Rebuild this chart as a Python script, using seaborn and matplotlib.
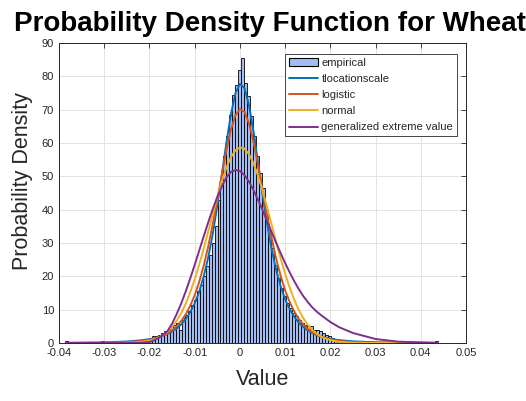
import matplotlib
matplotlib.use("Agg")
import matplotlib.pyplot as plt
import seaborn as sns
from matplotlib.patches import Patch
from matplotlib.lines import Line2D

sns.set_style("white")
plt.rcParams["font.family"] = ["Liberation Sans", "DejaVu Sans"]

# Empirical density of daily returns (bin centres and pdf-normalised heights)
bin_centers = [
    -0.03828, -0.03036, -0.02310, -0.02178, -0.02112, -0.02046, -0.01980,
    -0.01914, -0.01848, -0.01782, -0.01716, -0.01650, -0.01584, -0.01518,
    -0.01452, -0.01386, -0.01320, -0.01254, -0.01188, -0.01122, -0.01056,
    -0.00990, -0.00924, -0.00858, -0.00792, -0.00726, -0.00660, -0.00594,
    -0.00528, -0.00462, -0.00396, -0.00330, -0.00264, -0.00198, -0.00132,
    -0.00066, 0.00000, 0.00066,
    0.00132, 0.00198, 0.00264, 0.00330, 0.00396, 0.00462, 0.00528, 0.00594,
    0.00660, 0.00726, 0.00792, 0.00858, 0.00924, 0.00990, 0.01056, 0.01122,
    0.01188, 0.01254, 0.01320, 0.01386, 0.01452, 0.01518, 0.01584, 0.01650,
    0.01716, 0.01782, 0.01848, 0.01914, 0.01980, 0.02046, 0.02112, 0.02178,
    0.02244, 0.02376, 0.02508, 0.02772, 0.04356,
]
density = [
    0.5, 0.5, 0.5, 0.5, 1.0, 1.0, 1.5,
    2.0, 2.0, 2.5, 3.0, 3.5, 4.0, 5.0,
    5.5, 6.0, 4.0, 7.5, 8.5, 9.5, 11.5,
    13.0, 15.5, 17.5, 20.0, 23.0, 26.5, 30.0,
    35.0, 43.0, 48.0, 56.0, 62.0, 68.5, 74.5,
    77.5, 82.0, 85.4,
    78.0, 74.2, 68.0, 62.0, 56.0, 51.0, 46.5, 40.0,
    34.0, 28.5, 23.5, 19.5, 16.5, 14.0, 12.0, 10.5,
    9.0, 8.0, 7.0, 6.0, 5.5, 5.0, 5.0, 4.0,
    4.0, 3.5, 3.0, 2.5, 2.0, 1.5, 1.0, 1.0,
    0.5, 0.5, 0.5, 0.5, 0.5,
]

# Fitted densities evaluated along the data range
x_fit = [
    -0.0385, -0.030, -0.025, -0.022, -0.020, -0.019, -0.018, -0.017,
    -0.016, -0.015, -0.014, -0.013, -0.012, -0.011, -0.010, -0.009,
    -0.008, -0.007, -0.006, -0.005, -0.004, -0.003, -0.002, -0.001,
    0.000, 0.001, 0.002, 0.003, 0.004, 0.005, 0.006, 0.007,
    0.008, 0.009, 0.010, 0.011, 0.012, 0.013, 0.014, 0.015, 0.016,
    0.017, 0.018, 0.019, 0.020, 0.022, 0.025, 0.030, 0.035, 0.0437,
]
pdf_tlocationscale = [
    0.07, 0.20, 0.45, 0.78, 1.16, 1.42, 1.75, 2.17,
    2.72, 3.43, 4.35, 5.55, 7.13, 9.19, 11.90, 15.42,
    19.95, 25.69, 32.75, 41.09, 50.38, 59.91, 68.53, 74.87,
    77.72, 76.48, 71.41, 63.54, 54.21, 44.72, 35.94, 28.34,
    22.09, 17.10, 13.20, 10.19, 7.89, 6.13, 4.80, 3.77, 2.98,
    2.38, 1.91, 1.54, 1.25, 0.85, 0.49, 0.22, 0.11, 0.04,
]
pdf_logistic = [
    0.006, 0.058, 0.24, 0.55, 0.96, 1.27, 1.67, 2.20,
    2.90, 3.82, 5.01, 6.56, 8.56, 11.11, 14.33, 18.32,
    23.20, 28.99, 35.63, 42.95, 50.52, 57.75, 63.93, 68.27,
    70.17, 69.35, 65.92, 60.39, 53.49, 45.97, 38.50, 31.56,
    25.41, 20.17, 15.83, 12.31, 9.51, 7.30, 5.59, 4.26, 3.24,
    2.46, 1.87, 1.41, 1.07, 0.61, 0.26, 0.065, 0.016, 0.001,
]
pdf_normal = [
    0.0, 0.003, 0.06, 0.28, 0.71, 1.09, 1.63, 2.39,
    3.44, 4.83, 6.64, 8.92, 11.75, 15.13, 19.06, 23.51,
    28.38, 33.50, 38.72, 43.81, 48.49, 52.54, 55.71, 57.80,
    58.67, 58.30, 56.68, 53.93, 50.22, 45.76, 40.80, 35.60,
    30.41, 25.41, 20.79, 16.64, 13.03, 9.99, 7.49, 5.50, 3.95,
    2.77, 1.91, 1.29, 0.85, 0.34, 0.08, 0.003, 0.0, 0.0,
]
pdf_gev = [
    0.0, 0.0, 0.0, 0.05, 0.3, 0.8, 1.5, 2.4,
    3.6, 5.8, 8.6, 11.8, 15.4, 19.3, 23.4, 27.7,
    32.0, 36.2, 40.2, 43.8, 47.0, 49.6, 51.3, 51.9,
    51.6, 50.4, 48.4, 45.9, 43.0, 39.9, 36.6, 33.3,
    30.1, 27.0, 24.0, 21.2, 18.6, 16.2, 14.1, 12.3, 10.7,
    9.4, 8.3, 7.3, 6.3, 4.7, 3.0, 1.2, 0.4, 0.05,
]

x_ticks = [-0.04, -0.03, -0.02, -0.01, 0.0, 0.01, 0.02, 0.03, 0.04, 0.05]
x_tick_labels = ["-0.04", "-0.03", "-0.02", "-0.01", "0",
                 "0.01", "0.02", "0.03", "0.04", "0.05"]
y_ticks = [0, 10, 20, 30, 40, 50, 60, 70, 80, 90]

fit_names = ["tlocationscale", "logistic", "normal", "generalized extreme value"]
fit_values = [pdf_tlocationscale, pdf_logistic, pdf_normal, pdf_gev]
fit_colors = ["#0072BD", "#D95319", "#EDB120", "#7E2F8E"]
bar_color = "#A3BDF2"
ink = "#262626"

W, H = 526, 401
fig = plt.figure(figsize=(W / 100, H / 100), dpi=100)
ax = fig.add_axes([59 / W, 58 / H, 407 / W, 300 / H])

sns.histplot(x=bin_centers, weights=density, bins=125,
             binrange=(-0.03861, 0.04389), stat="count",
             color=bar_color, edgecolor="black", linewidth=0.6,
             alpha=1.0, ax=ax, zorder=2)

for name, vals, col in zip(fit_names, fit_values, fit_colors):
    sns.lineplot(x=x_fit, y=vals, color=col, linewidth=1.4, ax=ax,
                 zorder=3, legend=False)

ax.set_xlim(-0.04, 0.05)
ax.set_ylim(0, 90)
ax.set_xticks(x_ticks)
ax.set_xticklabels(x_tick_labels)
ax.set_yticks(y_ticks)
ax.grid(True, color="#e3e3e3", linewidth=0.7)
ax.set_axisbelow(True)
ax.tick_params(direction="in", length=3.5, width=0.6, top=True, right=True,
               colors=ink, labelsize=8, pad=3.5)
for sp in ax.spines.values():
    sp.set_color(ink)
    sp.set_linewidth(0.7)

ax.set_xlabel("Value", fontsize=15.5, color=ink)
ax.set_ylabel("Probability Density", fontsize=15.5, color=ink)
ax.xaxis.set_label_coords(0.5, -0.088)
ax.yaxis.set_label_coords(-0.064, 0.54)

fig.text(14 / W, 1 - 31 / H,
         "Probability Density Function for Wheat",
         ha="left", va="baseline", fontsize=20, fontweight="bold",
         color="black")

handles = [Patch(facecolor=bar_color, edgecolor="black", linewidth=0.8)]
handles += [Line2D([0], [0], color=c, linewidth=1.4) for c in fit_colors]
labels = ["empirical"] + fit_names
leg = ax.legend(handles, labels, loc="upper right",
                bbox_to_anchor=(0.978, 0.963), fontsize=8,
                frameon=True, fancybox=False, framealpha=1,
                edgecolor=ink, borderpad=0.35, labelspacing=0.55,
                handlelength=2.6, handletextpad=0.3, borderaxespad=0.0)
leg.get_frame().set_linewidth(0.6)

fig.savefig("out.png", dpi=100)
